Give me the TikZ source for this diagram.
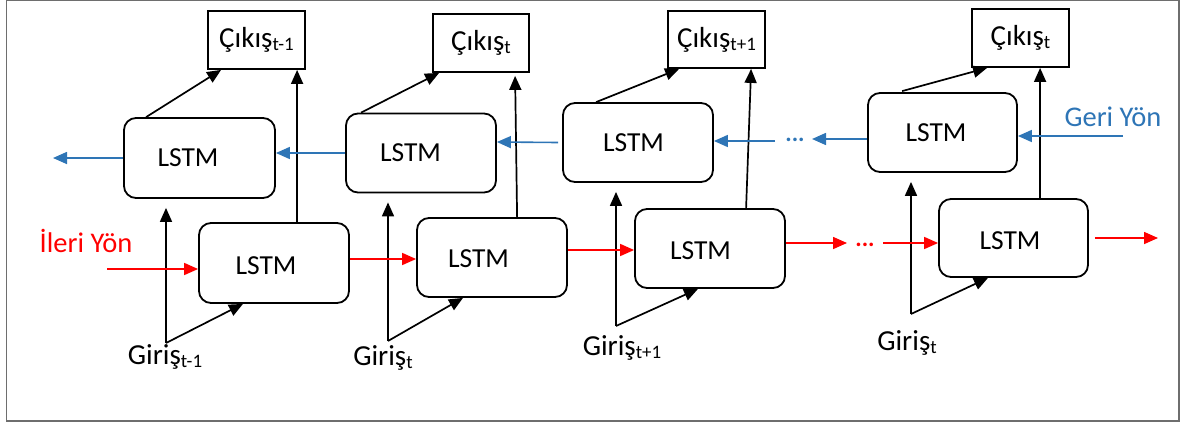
\documentclass[tikz,border=0pt]{standalone}
\usepackage{fontspec}
\setmainfont{Carlito}
\usetikzlibrary{arrows.meta,calc}
\definecolor{fwdred}{RGB}{255,0,0}
\definecolor{bwdblue}{RGB}{46,117,182}
\definecolor{framegray}{RGB}{110,110,110}
\tikzset{
  cell/.style={draw=black,line width=1.8pt,rounded corners=12pt,
    minimum width=150pt,minimum height=79pt,inner sep=0pt},
  celltext/.style={font=\fontsize{27.5}{30}\selectfont,inner sep=0pt},
  outbox/.style={draw=black,line width=1.8pt,minimum width=97pt,
    minimum height=57pt,inner sep=0pt,font=\fontsize{29}{32}\selectfont},
  intext/.style={inner sep=0pt,font=\fontsize{29}{32}\selectfont},
  tip/.style={-{Triangle[length=14pt,width=12pt]}},
  blk/.style={tip,draw=black,line width=1.7pt},
  fwd/.style={tip,draw=fwdred,line width=1.6pt},
  bwd/.style={tip,draw=bwdblue,line width=1.6pt},
  dotsred/.style={text=fwdred,inner sep=0pt,font=\fontsize{24}{26}\selectfont\bfseries},
  dotsblue/.style={text=bwdblue,inner sep=0pt,font=\fontsize{24}{26}\selectfont\bfseries},
}
\newcommand{\subt}[1]{\raisebox{-3pt}{\fontsize{19}{20}\selectfont #1}}
\begin{document}
\begin{tikzpicture}[x=1pt,y=-1pt]
\useasboundingbox (0,0) rectangle (1180,426);
\draw[framegray,line width=1.6pt] (6.5,0.5) rectangle (1179,421);

% backward (upper) cells
\node[cell,minimum width=151pt,minimum height=80pt] (B1) at (199.5,158) {};
\node[cell] (B2) at (421,153) {};
\node[cell] (B3) at (638,142.5) {};
\node[cell,minimum width=149pt] (B4) at (942.5,132.5) {};
% forward (lower) cells
\node[cell,minimum height=80pt] (F1) at (274,263) {};
\node[cell] (F2) at (492,257.5) {};
\node[cell] (F3) at (710,248.5) {};
\node[cell,minimum width=149pt,minimum height=78pt] (F4) at (1013.5,238) {};

\node[celltext] (tB1) at (188,158) {LSTM};
\node[celltext] (tB2) at (410.5,153) {LSTM};
\node[celltext] (tB3) at (633.5,142.5) {LSTM};
\node[celltext] (tB4) at (936,132.5) {LSTM};
\node[celltext] (tF1) at (266,266) {LSTM};
\node[celltext] (tF2) at (478.5,259) {LSTM};
\node[celltext] (tF3) at (700.5,251) {LSTM};
\node[celltext] (tF4) at (1010,241) {LSTM};

% outputs
\node[outbox,minimum height=58pt] (O1) at (256.5,40) {Çıkış\subt{t-1}};
\node[outbox,minimum width=96pt,minimum height=58pt] (O2) at (481,43) {Çıkış\subt{t}};
\node[outbox] (O3) at (716.5,39.5) {Çıkış\subt{t+1}};
\node[outbox,minimum height=58pt] (O4) at (1020.5,38) {Çıkış\subt{t}};

% inputs
\coordinate (in1) at (166,343);
\coordinate (in2) at (388,341);
\coordinate (in3) at (616,326);
\coordinate (in4) at (911,314);
\node[intext] (g1) at (165,357) {Giriş\subt{t-1}};
\node[intext] (g2) at (383,358) {Giriş\subt{t}};
\node[intext] (g3) at (622,348) {Giriş\subt{t+1}};
\node[intext] (g4) at (907,343) {Giriş\subt{t}};

% direction labels
\node[inner sep=0pt,text=fwdred,font=\fontsize{28.5}{31}\selectfont] (lf) at (86,241) {İleri Yön};
\node[inner sep=0pt,text=bwdblue,font=\fontsize{28.5}{31}\selectfont] (lb) at (1113,117) {Geri Yön};

% input fan-out
\foreach \i/\dx in {1/-31,2/-29,3/-12,4/-25.5}{
  \coordinate (up\i) at ($(B\i.south)+(0,9)$);
  \draw[blk] (in\i) -- (in\i |- up\i);
  \draw[blk] (in\i) -- ($(F\i.south)+(\dx,0)$);
}

% backward cells to outputs
\draw[blk] ($(B1.north west)+(23,0)$) -- ($(O1.south west)+(14,0)$);
\draw[blk] ($(B2.north west)+(16,0)$) -- ($(O2.south west)+(7,0)$);
\draw[blk] ($(B3.north west)+(34,0)$) -- ($(O3.south west)+(12,0)$);
\draw[blk] ($(B4.north west)+(35,-1)$) -- ($(O4.south west)+(16,0)$);
% forward cells to outputs
\draw[blk] ($(F1.north west)+(99,0)$) -- ($(O1.south west)+(90,0)$);
\draw[blk] ($(F2.north west)+(101,0)$) -- ($(O2.south west)+(83,3)$);
\draw[blk] ($(F3.north west)+(112,0)$) -- ($(O3.south west)+(84,0)$);
\draw[blk] ($(F4.north west)+(102,0)$) -- ($(O4.south west)+(69,0)$);

% forward direction
\coordinate (fin) at (107,269);
\draw[fwd] (fin) -- (F1.west |- fin);
\draw[fwd] ($(F1.east)+(0,-4)$) -- ($(F2.west)+(0,1.5)$);
\draw[fwd] ($(F2.east)+(0,-7.5)$) -- ($(F3.west)+(0,1.5)$);
\node[dotsred] (dr) at (865,245) {...};
\coordinate (fa) at (847,243);
\coordinate (fb) at (883,243);
\draw[fwd] ($(F3.east)+(0,-5.5)$) -- (fa);
\draw[fwd] (fb) -- (F4.west |- fb);
\coordinate (fout) at (1158,238);
\draw[fwd] ($(F4.east)+(6,0)$) -- (fout);

% backward direction
\coordinate (bin) at (1123,136);
\draw[bwd] (bin) -- (B4.east |- bin);
\node[dotsblue] (db) at (795,140) {...};
\coordinate (ba) at (812,139);
\coordinate (bb) at (775,141);
\draw[bwd] ($(B4.west)+(0,6.5)$) -- (ba);
\draw[bwd] (bb) -- (B3.east |- bb);
\draw[bwd] ($(B3.west)+(-4,0)$) -- ($(B2.east)+(0,-11)$);
\draw[bwd] (B2.west) -- (B1.east |- B2.west);
\coordinate (bout) at (53,158);
\draw[bwd] (B1.west) -- (bout);
\end{tikzpicture}
\end{document}
